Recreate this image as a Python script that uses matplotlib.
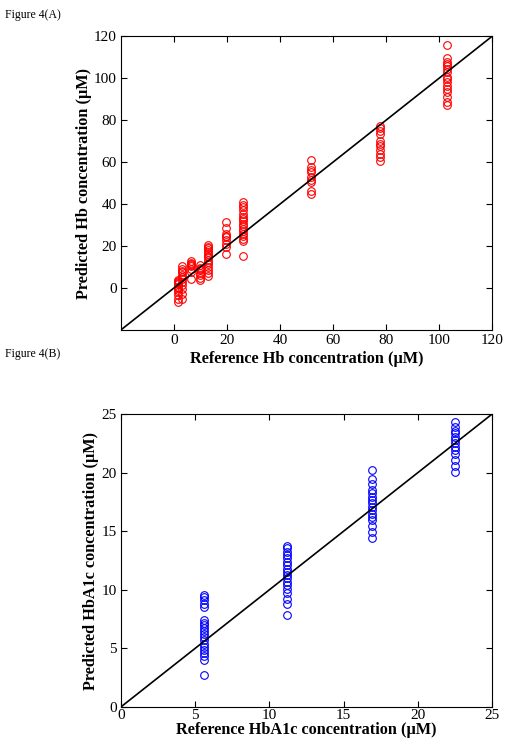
import numpy as np
from matplotlib import pyplot as plt

plt.rcParams['font.family'] = ['Liberation Serif', 'DejaVu Serif']

# Figure 4(A): Hb, reference value -> predicted values
hb_ref = [1.6, 3.2, 6.5, 9.7, 13.0, 19.5, 25.9, 51.8, 77.6, 103.2]
hb_pred = [
    [4.0, 2.9, 1.7, 0.5, -0.8, -1.9, -3.5, -5.1, -6.7, 3.4, 2.2, -0.2],
    [10.6, 9.0, 7.6, 6.0, 4.4, 2.9, 1.3, -0.3, -2.7, -5.1, 8.2, 5.2],
    [12.7, 11.6, 10.3, 9.0, 7.6, 4.4, 12.0, 11.0],
    [11.1, 9.7, 8.4, 7.1, 6.0, 4.9, 3.7, 8.9],
    [20.6, 19.5, 18.3, 17.1, 16.0, 14.8, 13.5, 12.4, 11.3, 10.0, 8.7, 7.1, 5.6, 19.0, 15.4],
    [31.4, 28.6, 25.9, 24.3, 22.7, 21.1, 19.5, 16.0, 24.9],
    [41.0, 39.8, 38.6, 37.0, 35.4, 34.1, 33.0, 31.9, 30.6, 29.4, 28.3, 27.1, 25.9, 24.6, 23.5, 22.4, 15.4],
    [61.1, 57.6, 56.3, 55.2, 52.9, 51.6, 50.5, 46.5, 44.6],
    [77.1, 76.2, 75.1, 73.5, 70.3, 68.7, 67.5, 65.9, 64.0, 62.4, 60.8],
    [116.0, 109.5, 107.6, 106.8, 105.7, 104.4, 102.9, 100.5, 99.7, 98.1, 96.5, 94.9, 93.3, 91.0, 88.6, 87.5],
]

# Figure 4(B): HbA1c
a1c_ref = [5.6, 11.2, 16.9, 22.5]
a1c_pred = [
    [9.55, 9.4, 9.1, 8.83, 8.55, 7.46, 7.18, 6.98, 6.7, 6.5, 6.27, 5.98, 5.7, 5.41, 5.13, 4.9, 4.62, 4.33, 3.99, 2.7],
    [13.76, 13.53, 13.25, 12.96, 12.68, 12.4, 12.1, 11.82, 11.54, 11.25, 10.97, 10.68, 10.4, 10.1, 9.69, 9.26, 8.77, 7.83],
    [20.2, 19.5, 19.0, 18.5, 18.23, 17.95, 17.66, 17.38, 17.1, 16.8, 16.5, 16.24, 15.95, 15.47, 14.96, 14.44],
    [24.3, 23.9, 23.6, 23.36, 23.08, 22.8, 22.5, 22.2, 21.9, 21.6, 21.1, 20.6, 20.1],
]


def style_axes(ax):
    ax.tick_params(direction='in', top=True, right=True, labelsize=11, length=4, pad=3)
    for s in ax.spines.values():
        s.set_linewidth(0.8)


fig = plt.figure(figsize=(5.12, 7.51), dpi=100)

# ---- (A)
ax1 = fig.add_axes([0.236, 0.5606, 0.725, 0.391])
for r, vals in zip(hb_ref, hb_pred):
    ax1.plot([r] * len(vals), vals, 'o', mfc='none', mec='red', ms=5.5, mew=0.8)
ax1.plot([-20, 120], [-20, 120], 'k-', lw=1.2)
ax1.set_xlim(-20, 120)
ax1.set_ylim(-20, 120)
ax1.set_xticks(np.arange(0, 121, 20))
ax1.set_yticks(np.arange(0, 121, 20))
style_axes(ax1)
ax1.set_xlabel('Reference Hb concentration (\u03bcM)', fontsize=11.7, fontweight='bold', labelpad=3)
ax1.set_ylabel('Predicted Hb concentration (\u03bcM)', fontsize=11.7, fontweight='bold', labelpad=1)

# ---- (B)
ax2 = fig.add_axes([0.236, 0.0586, 0.725, 0.390])
for r, vals in zip(a1c_ref, a1c_pred):
    ax2.plot([r] * len(vals), vals, 'o', mfc='none', mec='blue', ms=5.5, mew=0.8)
ax2.plot([0, 25], [0, 25], 'k-', lw=1.2)
ax2.set_xlim(0, 25)
ax2.set_ylim(0, 25)
ax2.set_xticks(np.arange(0, 26, 5))
ax2.set_yticks(np.arange(0, 26, 5))
style_axes(ax2)
ax2.tick_params(axis='x', pad=1.5)
ax2.set_xlabel('Reference HbA1c concentration (\u03bcM)', fontsize=11.7, fontweight='bold', labelpad=0)
ax2.set_ylabel('Predicted HbA1c concentration (\u03bcM)', fontsize=11.7, fontweight='bold', labelpad=2)

fig.text(0.01, 0.988, 'Figure 4(A)', fontsize=8.5, va='top', ha='left')
fig.text(0.01, 0.536, 'Figure 4(B)', fontsize=8.5, va='top', ha='left')

plt.savefig('out.png', dpi=100)
